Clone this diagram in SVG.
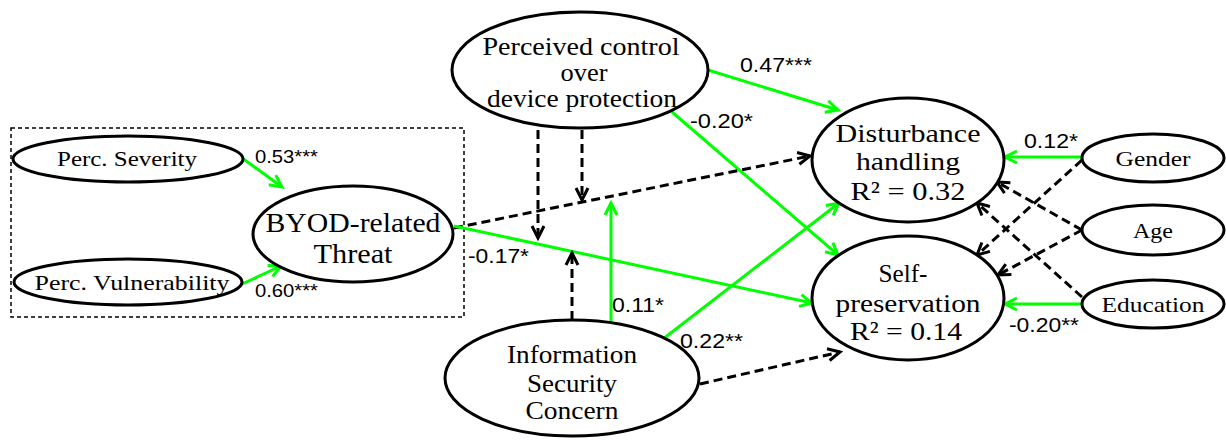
<svg xmlns="http://www.w3.org/2000/svg" width="1226" height="444" viewBox="0 0 1226 444">
<style>
.node{fill:#fff;stroke:#000;stroke-width:3}
.t{font-family:"Liberation Serif","Times New Roman",serif;fill:#000;text-anchor:middle}
.big{font-size:25px}
.mid{font-size:26px}
.small{font-size:22px}
.lab{font-family:"Liberation Sans",Arial,sans-serif;font-size:20px;fill:#000}
.labs{font-family:"Liberation Sans",Arial,sans-serif;font-size:18px;fill:#000}
.g{stroke:#00ff00;stroke-width:3;fill:none;marker-end:url(#ag)}
.d{stroke:#000;stroke-width:3;fill:none;stroke-dasharray:9 5;marker-end:url(#ab)}
</style>
<defs>
<marker id="ag" markerUnits="userSpaceOnUse" markerWidth="16" markerHeight="16" refX="13" refY="7" orient="auto" viewBox="0 0 16 14">
<path d="M1,1 L13,7 L1,13" fill="none" stroke="#00ff00" stroke-width="3"/>
</marker>
<marker id="ab" markerUnits="userSpaceOnUse" markerWidth="16" markerHeight="16" refX="13" refY="7" orient="auto" viewBox="0 0 16 14">
<path d="M1,1 L13,7 L1,13" fill="none" stroke="#000" stroke-width="3"/>
</marker>
</defs>
<rect x="11" y="128" width="453" height="189" fill="none" stroke="#000" stroke-width="1.5" stroke-dasharray="4 3"/>
<g id="connectors">
<line class="g" x1="242" y1="158" x2="282" y2="187"/>
<line class="g" x1="242" y1="284" x2="281" y2="266"/>
<line class="g" x1="708" y1="70" x2="838" y2="110"/>
<line class="g" x1="672" y1="112" x2="838" y2="255"/>
<line class="d" x1="454" y1="228" x2="810" y2="156"/>
<line class="g" x1="454" y1="226" x2="812" y2="303"/>
<line class="d" x1="538" y1="130" x2="538" y2="238"/>
<line class="d" x1="582" y1="130" x2="582" y2="200"/>
<line class="d" x1="572" y1="320" x2="572" y2="253"/>
<line class="g" x1="611" y1="322" x2="611" y2="203"/>
<line class="g" x1="663" y1="339" x2="839" y2="203"/>
<line class="d" x1="700" y1="384" x2="840" y2="352"/>
<line class="g" x1="1082" y1="157" x2="1005" y2="157"/>
<line class="g" x1="1082" y1="304" x2="1005" y2="304"/>
<line class="d" x1="1082" y1="160" x2="977" y2="255"/>
<line class="d" x1="1082" y1="230" x2="997" y2="182"/>
<line class="d" x1="1082" y1="230" x2="998" y2="275"/>
<line class="d" x1="1082" y1="297" x2="977" y2="203"/>
</g>
<g id="labels">
<text class="labs" x="255" y="163" textLength="63" lengthAdjust="spacingAndGlyphs">0.53***</text>
<text class="labs" x="255" y="297" textLength="63" lengthAdjust="spacingAndGlyphs">0.60***</text>
<text class="lab" x="740" y="72" textLength="72" lengthAdjust="spacingAndGlyphs">0.47***</text>
<text class="lab" x="690" y="128" textLength="63" lengthAdjust="spacingAndGlyphs">-0.20*</text>
<text class="lab" x="468" y="263" textLength="61" lengthAdjust="spacingAndGlyphs">-0.17*</text>
<text class="lab" x="612" y="312" textLength="52" lengthAdjust="spacingAndGlyphs">0.11*</text>
<text class="lab" x="680" y="348" textLength="63" lengthAdjust="spacingAndGlyphs">0.22**</text>
<text class="lab" x="1024" y="148" textLength="54" lengthAdjust="spacingAndGlyphs">0.12*</text>
<text class="lab" x="1009" y="332" textLength="70" lengthAdjust="spacingAndGlyphs">-0.20**</text>
</g>
<g id="severity"><ellipse class="node" cx="128" cy="159" rx="115" ry="23"/><text class="t small" x="127" y="166" textLength="140" lengthAdjust="spacingAndGlyphs">Perc. Severity</text></g>
<g id="vulnerability"><ellipse class="node" cx="128" cy="282" rx="114" ry="23"/><text class="t small" x="132" y="290" textLength="195" lengthAdjust="spacingAndGlyphs">Perc. Vulnerability</text></g>
<g id="byod"><ellipse class="node" cx="353" cy="234" rx="100" ry="48"/><text class="t" style="font-size:27px" x="353" y="232" textLength="175" lengthAdjust="spacingAndGlyphs">BYOD-related</text><text class="t" style="font-size:27px" x="353" y="263" textLength="79" lengthAdjust="spacingAndGlyphs">Threat</text></g>
<g id="control"><ellipse class="node" cx="580" cy="70" rx="128" ry="58"/><text class="t big" x="581" y="55" textLength="197" lengthAdjust="spacingAndGlyphs">Perceived control</text><text class="t big" x="584" y="81" textLength="47" lengthAdjust="spacingAndGlyphs">over</text><text class="t big" x="582" y="107" textLength="190" lengthAdjust="spacingAndGlyphs">device protection</text></g>
<g id="disturbance"><ellipse class="node" cx="908" cy="160" rx="96" ry="62"/><text class="t mid" x="908" y="142" textLength="145" lengthAdjust="spacingAndGlyphs">Disturbance</text><text class="t mid" x="908" y="170" textLength="104" lengthAdjust="spacingAndGlyphs">handling</text><text class="t mid" x="908" y="200" textLength="115" lengthAdjust="spacingAndGlyphs">R² = 0.32</text></g>
<g id="selfpres"><ellipse class="node" cx="908" cy="298" rx="96" ry="62"/><text class="t mid" x="903" y="282" textLength="49" lengthAdjust="spacingAndGlyphs">Self-</text><text class="t mid" x="908" y="312" textLength="145" lengthAdjust="spacingAndGlyphs">preservation</text><text class="t mid" x="906" y="340" textLength="112" lengthAdjust="spacingAndGlyphs">R² = 0.14</text></g>
<g id="concern"><ellipse class="node" cx="572" cy="378" rx="127" ry="58"/><text class="t big" x="572" y="363" textLength="130" lengthAdjust="spacingAndGlyphs">Information</text><text class="t big" x="572" y="392" textLength="90" lengthAdjust="spacingAndGlyphs">Security</text><text class="t big" x="572" y="419" textLength="93" lengthAdjust="spacingAndGlyphs">Concern</text></g>
<g id="gender"><ellipse class="node" cx="1153" cy="158" rx="71" ry="24"/><text class="t small" x="1153" y="166" textLength="75" lengthAdjust="spacingAndGlyphs">Gender</text></g>
<g id="age"><ellipse class="node" cx="1153" cy="230" rx="71" ry="25"/><text class="t small" x="1153" y="238" textLength="40" lengthAdjust="spacingAndGlyphs">Age</text></g>
<g id="education"><ellipse class="node" cx="1153" cy="304" rx="71" ry="24"/><text class="t small" x="1153" y="312" textLength="103" lengthAdjust="spacingAndGlyphs">Education</text></g>
</svg>
